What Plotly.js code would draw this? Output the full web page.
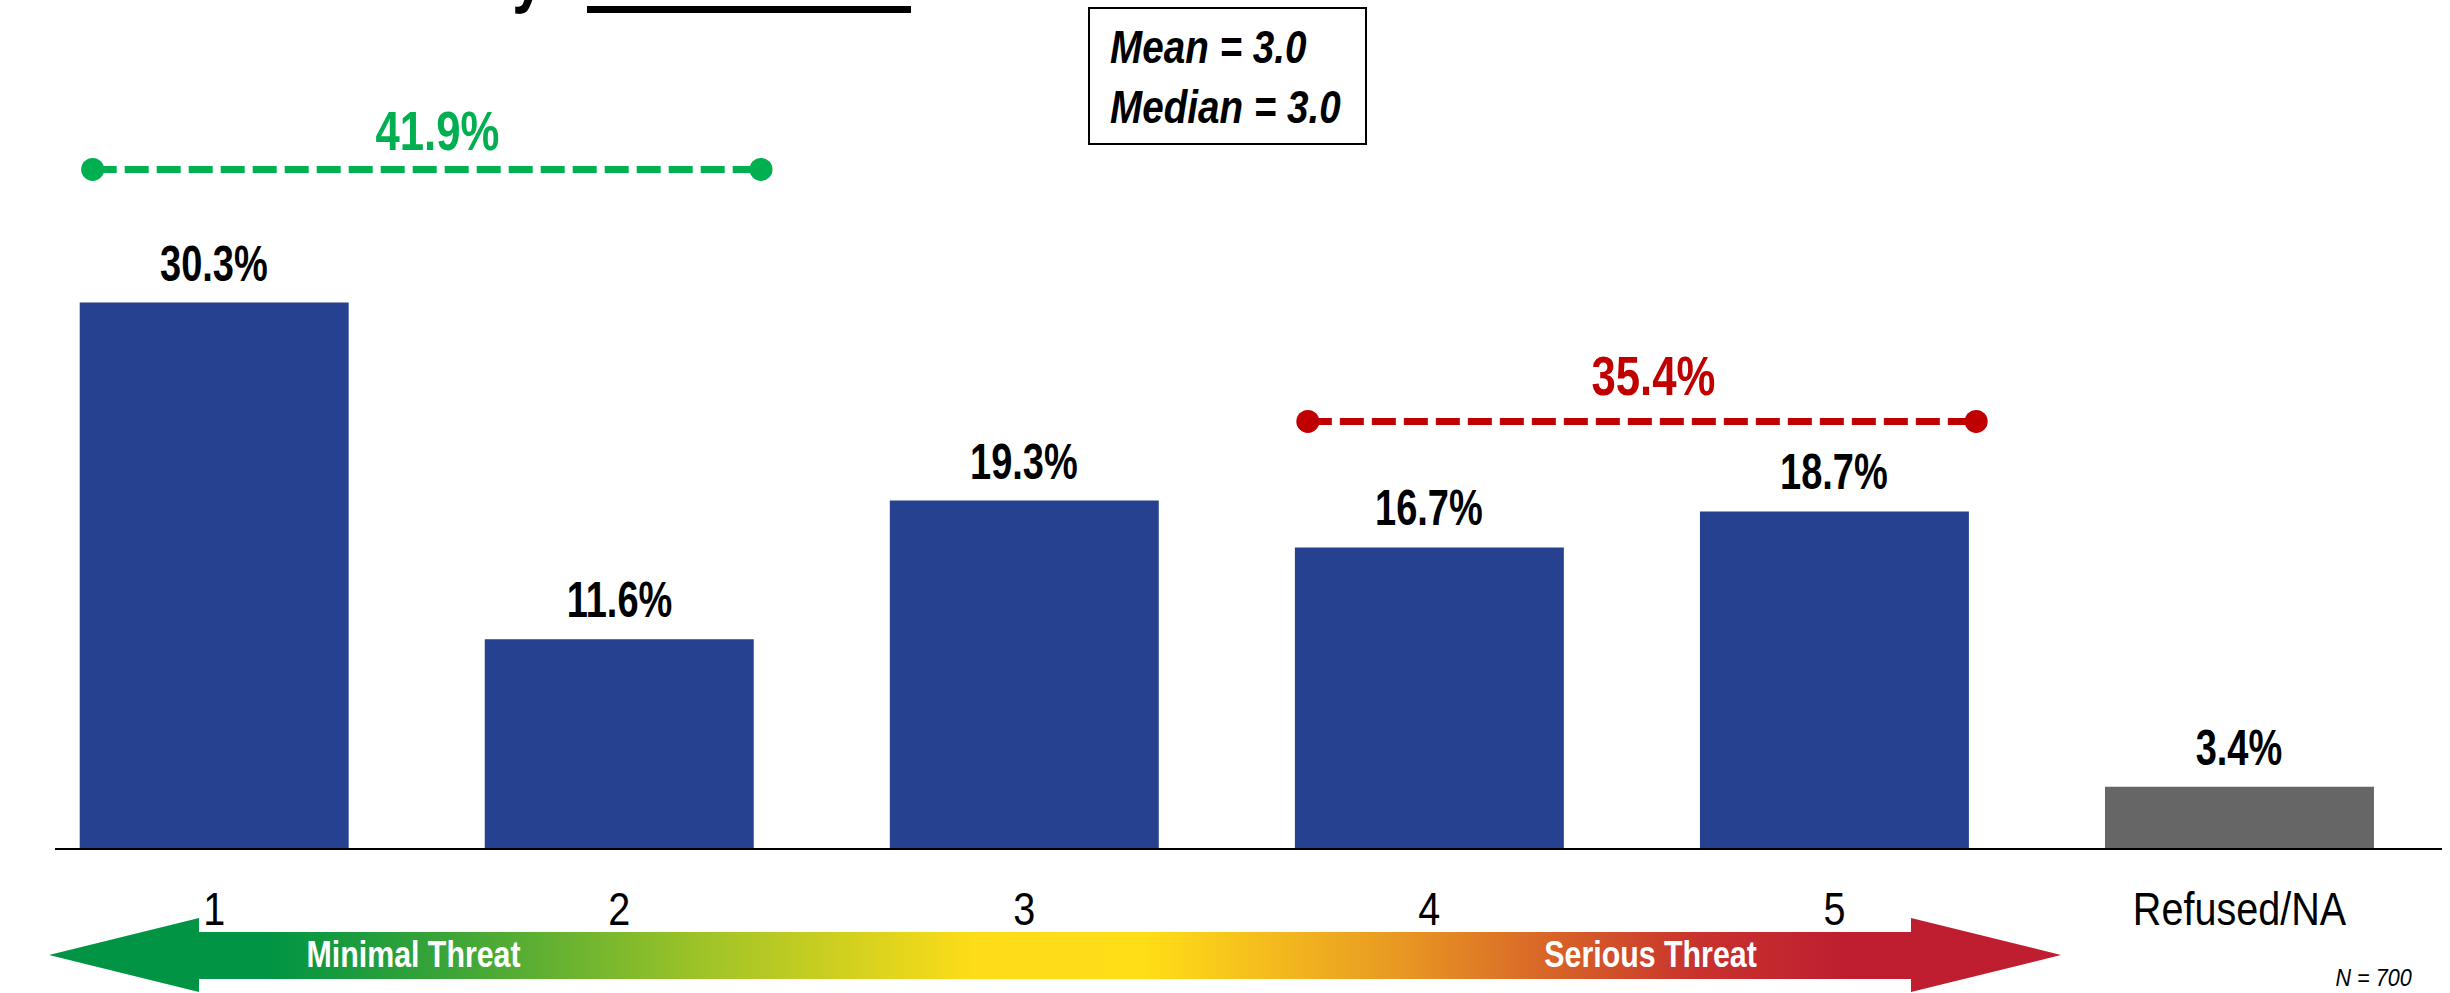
<!DOCTYPE html>
<html>
<head>
<meta charset="utf-8">
<script src="https://cdn.plot.ly/plotly-3.0.1.min.js"></script>
<style>
  html, body { margin: 0; padding: 0; background: #ffffff; }
  #chart { width: 2450px; height: 993px; }
</style>
</head>
<body>
<div id="chart"></div>
<script>
// ---------------- data ----------------
const categories = ['1', '2', '3', '4', '5', 'Refused/NA'];
const percents = [30.3, 11.6, 19.3, 16.7, 18.7, 3.4];
const lowGroup = [0, 1];        // indices of "1" and "2"
const highGroup = [3, 4];       // indices of "4" and "5"
const groupTotals = [41.9, 35.4];
const meanValue = 3.0;
const medianValue = 3.0;
const sampleSize = 700;
const scaleEndLabels = ['Minimal Threat', 'Serious Threat'];

// ---------------- styling ----------------
const W = 2450, H = 993;
const FONT = '"Liberation Sans", Arial, sans-serif';
const BLUE = '#25418F';
const GREY = '#666666';
const GREEN = '#00B050';
const RED = '#C00000';

const idx = categories.map((c, i) => i);
const barColors = categories.map(c => (c === 'Refused/NA' ? GREY : BLUE));
const fmt = v => v.toFixed(1) + '%';

// pixel helpers for decoration in paper space (margins are zero)
const px = x => x / W;
const py = y => 1 - y / H;

const traces = [];

// bars
traces.push({
  type: 'bar',
  x: idx,
  y: percents,
  width: 0.664,
  marker: { color: barColors, line: { width: 0 } },
  xaxis: 'x', yaxis: 'y',
  hoverinfo: 'skip'
});

// group brackets
const brackets = [
  { members: lowGroup, total: groupTotals[0], y: 37.7, color: GREEN, lift: 39 },
  { members: highGroup, total: groupTotals[1], y: 23.7, color: RED, lift: 46 }
];
brackets.forEach(b => {
  const x0 = Math.min(...b.members) - 0.30;
  const x1 = Math.max(...b.members) + 0.35;
  b.x0 = x0; b.x1 = x1;
  traces.push({
    type: 'scatter',
    mode: 'lines+markers',
    x: [x0, x1],
    y: [b.y, b.y],
    line: { color: b.color, width: 7, dash: '24px,8px' },
    marker: { color: b.color, size: 23, symbol: 'circle' },
    xaxis: 'x', yaxis: 'y',
    hoverinfo: 'skip'
  });
});

// gradient arrow (decoration, in pixel space on x2/y2)
traces.push({
  type: 'scatter',
  mode: 'lines',
  x: [49, 199, 199, 1911, 1911, 2061, 1911, 1911, 199, 199, 49],
  y: [955, 918, 932, 932, 918, 955, 992, 979, 979, 992, 955],
  fill: 'toself',
  fillcolor: '#00944A',
  fillgradient: {
    type: 'horizontal',
    start: 49,
    stop: 2061,
    colorscale: [
      [0.0, 'rgb(0,148,68)'],
      [0.109, 'rgb(0,148,68)'],
      [0.2, 'rgb(60,165,55)'],
      [0.324, 'rgb(158,195,40)'],
      [0.459, 'rgb(253,220,24)'],
      [0.545, 'rgb(255,221,23)'],
      [0.671, 'rgb(232,152,35)'],
      [0.82, 'rgb(200,50,45)'],
      [0.895, 'rgb(190,30,48)'],
      [1.0, 'rgb(190,30,48)']
    ]
  },
  line: { width: 0, color: 'rgba(0,0,0,0)' },
  xaxis: 'x2', yaxis: 'y2',
  hoverinfo: 'skip'
});

const annotations = [];
const annScale = [];   // horizontal condensing per annotation (narrow typeface look)

// bar value labels
percents.forEach((v, i) => {
  annotations.push({
    x: i, y: v, xref: 'x', yref: 'y',
    text: '<b>' + fmt(v) + '</b>',
    showarrow: false, xanchor: 'center', yanchor: 'middle',
    yshift: 39,
    font: { family: FONT, size: 50, color: '#000000' }
  });
  annScale.push(0.76);
});

// bracket labels
brackets.forEach(b => {
  annotations.push({
    x: (b.x0 + b.x1) / 2, y: b.y, xref: 'x', yref: 'y',
    text: '<b>' + fmt(b.total) + '</b>',
    showarrow: false, xanchor: 'center', yanchor: 'middle',
    yshift: b.lift, xshift: 11,
    font: { family: FONT, size: 56, color: b.color }
  });
  annScale.push(0.78);
});

// mean / median box text
annotations.push({
  x: px(1108), y: py(77), xref: 'paper', yref: 'paper',
  text: '<b><i>Mean = ' + meanValue.toFixed(1) + '</i></b><br><b><i>Median = ' + medianValue.toFixed(1) + '</i></b>',
  showarrow: false, xanchor: 'left', yanchor: 'middle', align: 'left',
  font: { family: FONT, size: 46, color: '#000000' }
});
annScale.push(0.84);

// arrow labels
annotations.push({
  x: px(413), y: py(954), xref: 'paper', yref: 'paper',
  text: '<b>' + scaleEndLabels[0] + '</b>',
  showarrow: false, xanchor: 'center', yanchor: 'middle',
  font: { family: FONT, size: 37, color: '#ffffff' }
});
annScale.push(0.82);
annotations.push({
  x: px(1650), y: py(954), xref: 'paper', yref: 'paper',
  text: '<b>' + scaleEndLabels[1] + '</b>',
  showarrow: false, xanchor: 'center', yanchor: 'middle',
  font: { family: FONT, size: 37, color: '#ffffff' }
});
annScale.push(0.82);

// sample size
annotations.push({
  x: px(2414), y: py(977), xref: 'paper', yref: 'paper',
  text: '<i>N = ' + sampleSize + '</i>',
  showarrow: false, xanchor: 'right', yanchor: 'middle', align: 'right',
  font: { family: FONT, size: 24, color: '#000000' }
});
annScale.push(0.9);

// title (mostly above the visible area, only a descender shows)
annotations.push({
  x: px(546), y: py(16), xref: 'paper', yref: 'paper',
  text: '<b>Perceived Threat Posed by</b>',
  showarrow: false, xanchor: 'right', yanchor: 'bottom', align: 'right',
  font: { family: FONT, size: 72, color: '#000000' }
});
annScale.push(0.8);

const shapes = [
  // mean/median box
  { type: 'rect', xref: 'paper', yref: 'paper',
    x0: px(1089), x1: px(1366), y0: py(144), y1: py(8),
    line: { color: '#000000', width: 2 }, fillcolor: 'rgba(0,0,0,0)' },
  // title underline blank
  { type: 'rect', xref: 'paper', yref: 'paper',
    x0: px(587), x1: px(911), y0: py(13), y1: py(6),
    line: { width: 0 }, fillcolor: '#000000' }
];

const layout = {
  width: W, height: H,
  margin: { l: 0, r: 0, t: 0, b: 0, pad: 0 },
  paper_bgcolor: '#ffffff',
  plot_bgcolor: 'rgba(0,0,0,0)',
  showlegend: false,
  hovermode: false,
  xaxis: {
    domain: [55 / W, 2442 / W],
    range: [-0.393, 5.5],
    tickvals: idx,
    ticktext: categories,
    showgrid: false, zeroline: false,
    showline: true, linecolor: '#000000', linewidth: 2,
    ticks: '',
    ticklabelstandoff: 20,
    tickfont: { family: FONT, size: 46, color: '#000000' },
    fixedrange: true
  },
  yaxis: {
    domain: [(H - 848) / H, 1],
    range: [0, 848 / 18.0],
    visible: false,
    fixedrange: true
  },
  xaxis2: {
    domain: [0, 1], range: [0, W], anchor: 'y2',
    visible: false, fixedrange: true
  },
  yaxis2: {
    domain: [0, 1], range: [H, 0], anchor: 'x2',
    visible: false, fixedrange: true
  },
  annotations: annotations,
  shapes: shapes
};

// condense a text element horizontally about its own anchor x
function condense(el, s) {
  const x = parseFloat(el.getAttribute('x')) || 0;
  const t = el.getAttribute('data-base-transform') !== null
    ? el.getAttribute('data-base-transform')
    : (el.getAttribute('transform') || '');
  el.setAttribute('data-base-transform', t);
  el.setAttribute('transform', (t + ' translate(' + x + ',0) scale(' + s + ',1) translate(' + (-x) + ',0)').trim());
}

Plotly.newPlot('chart', traces, layout, { staticPlot: true, displayModeBar: false }).then(gd => {
  gd.querySelectorAll('g.annotation').forEach(g => {
    const i = parseInt(g.getAttribute('data-index'), 10);
    const txt = g.querySelector('text.annotation-text');
    if (txt && annScale[i]) condense(txt, annScale[i]);
  });
  gd.querySelectorAll('g.xtick text').forEach(t => condense(t, 0.86));
});
</script>
</body>
</html>
